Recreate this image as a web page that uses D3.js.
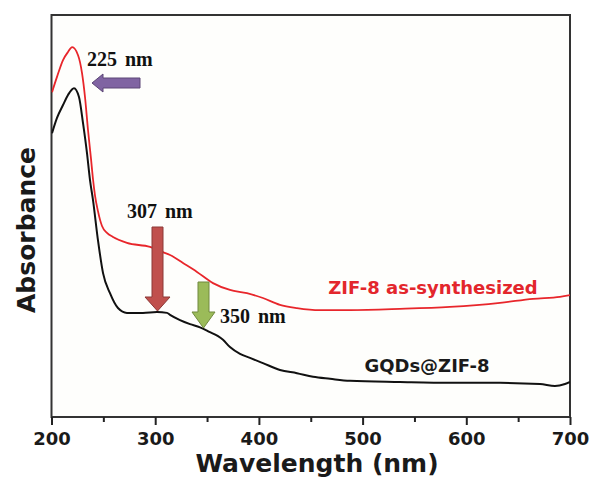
<!DOCTYPE html>
<html>
<head>
<meta charset="utf-8">
<script src="https://cdn.jsdelivr.net/npm/d3@7/dist/d3.min.js"></script>
<style>
  html, body { margin: 0; padding: 0; background: #ffffff; }
  svg { display: block; }
</style>
</head>
<body>
<script>
// ---- Data (wavelength in nm, absorbance in arbitrary units) ----
const wlZIF8 = [200.5,205.3,211.1,215.9,219.9,225.6,229.4,232.3,235.2,238.1,240.0,242.0,244.8,248.7,253.5,259.3,272.8,295.0,307.5,314.3,326.8,340.3,355.7,372.1,388.5,403.9,420.3,436.7,458.9,487.8,536.0,584.2,632.5,664.3,690.3,700.0];
const absZIF8 = [0.808,0.846,0.888,0.908,0.920,0.900,0.856,0.796,0.714,0.642,0.592,0.550,0.512,0.475,0.458,0.448,0.433,0.423,0.410,0.403,0.383,0.361,0.333,0.316,0.308,0.296,0.279,0.271,0.266,0.266,0.269,0.274,0.284,0.294,0.299,0.303];

const wlGQD = [200.5,205.3,211.1,215.9,221.7,226.5,230.4,234.2,237.1,240.0,244.8,249.7,256.4,264.1,272.8,288.2,301.7,311.4,314.3,323.9,333.6,343.2,352.8,360.6,365.4,372.1,381.8,391.4,403.9,420.3,436.7,452.2,468.6,487.8,536.0,584.2,632.5,671.1,685.5,695.2,700.0];
const absGQD = [0.706,0.744,0.776,0.801,0.818,0.796,0.731,0.657,0.590,0.540,0.440,0.358,0.308,0.271,0.259,0.259,0.261,0.259,0.254,0.241,0.231,0.223,0.211,0.201,0.192,0.174,0.157,0.147,0.134,0.117,0.109,0.100,0.095,0.090,0.087,0.085,0.085,0.082,0.077,0.082,0.087];

const xTicksMajor = [200,300,400,500,600,700];
const xTicksMinor = [250,350,450,550,650];
const seriesNames = ["ZIF-8 as-synthesized","GQDs@ZIF-8"];
const peakLabels = ["225 nm","307 nm","350 nm"];
const xTitle = "Wavelength (nm)";
const yTitle = "Absorbance";

// ---- Layout ----
const W = 594, H = 480;
const L = 51.5, R = 570, T = 15, B = 417;

const svg = d3.select("body").append("svg").attr("width", W).attr("height", H);
svg.append("rect").attr("width", W).attr("height", H).attr("fill", "#ffffff");

const x = d3.scaleLinear().domain([200,700]).range([L,R]);
const y = d3.scaleLinear().domain([0,1]).range([B, B-402]);

// frame
svg.append("rect").attr("x", L).attr("y", T).attr("width", R-L).attr("height", B-T)
  .attr("fill", "#fefefc").attr("stroke", "#333").attr("stroke-width", 2);

// x axis
const sans = "'DejaVu Sans', 'Open Sans', sans-serif";
const axis = svg.append("g").attr("transform", `translate(0,${B})`)
  .call(d3.axisBottom(x).tickValues(xTicksMajor).tickSize(8).tickPadding(0).tickFormat(d3.format("d")));
axis.select(".domain").remove();
axis.selectAll(".tick line").attr("stroke", "#222").attr("stroke-width", 2);
axis.selectAll(".tick text").attr("font-family", sans).attr("font-weight", 700)
  .attr("font-size", 18).attr("fill", "#1a1a1a").attr("dy", null).attr("y", 27.5);
const minor = svg.append("g").attr("transform", `translate(0,${B})`)
  .call(d3.axisBottom(x).tickValues(xTicksMinor).tickSize(5).tickFormat(""));
minor.select(".domain").remove();
minor.selectAll(".tick line").attr("stroke", "#222").attr("stroke-width", 2);

// titles
svg.append("text").attr("x", 317).attr("y", 472).attr("text-anchor", "middle")
  .attr("font-family", sans).attr("font-weight", 700).attr("font-size", 25).attr("fill", "#1a1a1a")
  .text(xTitle);
svg.append("text").attr("transform", `translate(35,230) rotate(-90)`).attr("text-anchor", "middle")
  .attr("font-family", sans).attr("font-weight", 700).attr("font-size", 25).attr("fill", "#1a1a1a")
  .text(yTitle);

// lines
const line = d3.line().x(d => x(d[0])).y(d => y(d[1])).curve(d3.curveMonotoneX);
const clip = svg.append("clipPath").attr("id", "clip").append("rect")
  .attr("x", L).attr("y", T).attr("width", R-L).attr("height", B-T);
const g = svg.append("g").attr("clip-path", "url(#clip)");
g.append("path").datum(d3.zip(wlZIF8, absZIF8)).attr("d", line)
  .attr("fill", "none").attr("stroke", "#e8262b").attr("stroke-width", 1.8);
g.append("path").datum(d3.zip(wlGQD, absGQD)).attr("d", line)
  .attr("fill", "none").attr("stroke", "#111").attr("stroke-width", 2);

// series labels
svg.append("text").attr("x", 433).attr("y", 294).attr("text-anchor", "middle")
  .attr("font-family", sans).attr("font-weight", 700).attr("font-size", 18).attr("fill", "#e3262c")
  .text(seriesNames[0]);
svg.append("text").attr("x", 427).attr("y", 372).attr("text-anchor", "middle")
  .attr("font-family", sans).attr("font-weight", 700).attr("font-size", 18).attr("fill", "#1a1a1a")
  .text(seriesNames[1]);

// arrows
function arrowDown(cx, top, headStart, tip, shaftW, headW) {
  return `M${cx-shaftW/2},${top} L${cx+shaftW/2},${top} L${cx+shaftW/2},${headStart} L${cx+headW/2},${headStart} L${cx},${tip} L${cx-headW/2},${headStart} L${cx-shaftW/2},${headStart} Z`;
}
function arrowLeft(cy, tail, headStart, tip, shaftH, headH) {
  return `M${tail},${cy-shaftH/2} L${headStart},${cy-shaftH/2} L${headStart},${cy-headH/2} L${tip},${cy} L${headStart},${cy+headH/2} L${headStart},${cy+shaftH/2} L${tail},${cy+shaftH/2} Z`;
}
svg.append("path").attr("d", arrowLeft(83, 140, 103, 92, 10, 18))
  .attr("fill", "#8064a2").attr("stroke", "#5c4776").attr("stroke-width", 1);
svg.append("path").attr("d", arrowDown(157.5, 227, 297, 311, 11, 25))
  .attr("fill", "#c0504d").attr("stroke", "#8c3836").attr("stroke-width", 1);
svg.append("path").attr("d", arrowDown(203.5, 282, 312, 328, 11, 23))
  .attr("fill", "#9bbb59").attr("stroke", "#71893f").attr("stroke-width", 1);

// peak labels
const serif = "'Liberation Serif', 'DejaVu Serif', serif";
const pl = [[87,66],[127,218],[220,323]];
peakLabels.forEach((t,i) => {
  svg.append("text").attr("x", pl[i][0]).attr("y", pl[i][1])
    .attr("font-family", serif).attr("font-weight", 700).attr("font-size", 20)
    .attr("word-spacing", 3).attr("fill", "#111")
    .text(t);
});
</script>
</body>
</html>
